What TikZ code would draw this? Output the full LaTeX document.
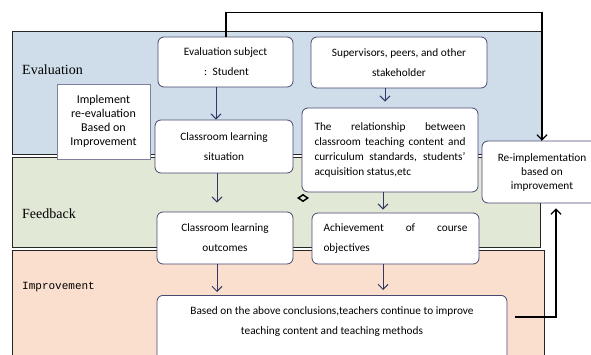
\documentclass[tikz,border=0pt]{standalone}
\usepackage{fontspec}
\setmainfont{Carlito}
\newfontfamily\bandserif{Liberation Serif}
\newfontfamily\bandmono{Liberation Mono}
\usetikzlibrary{arrows.meta,shapes.geometric,calc}
\definecolor{evalfill}{RGB}{206,221,233}
\definecolor{feedfill}{RGB}{225,232,214}
\definecolor{impfill}{RGB}{250,223,207}
\definecolor{boxline}{RGB}{72,72,112}
\definecolor{flowline}{RGB}{50,55,100}
\begin{document}
\begin{tikzpicture}[x=1pt,y=-1pt,
  band/.style={draw=black!85, line width=1pt},
  bandlabel/.style={anchor=west, inner sep=0pt},
  rbox/.style={draw=boxline, fill=white, rounded corners=6pt, line width=0.8pt,
    inner sep=0pt, align=center, font=\fontsize{11.3}{20}\selectfont},
  sqbox/.style={draw=boxline!70, fill=white, line width=0.6pt, inner sep=0pt,
    align=center, font=\fontsize{12}{14}\selectfont},
  plaintext/.style={inner sep=0pt, align=center, font=\fontsize{11.3}{20}\selectfont},
  flow/.style={draw=flowline, line width=1pt, -{Straight Barb[length=5pt,width=10pt]}},
  loopback/.style={draw=black, line width=1.3pt, -{Straight Barb[length=5pt,width=10pt]}}
]
\useasboundingbox (0,0) rectangle (591,355);
\fill[white] (0,0) rectangle (591,355);

% the three stages
\path[band, fill=evalfill] (12,32) rectangle (541,155);
\path[band, fill=feedfill] (12,158) rectangle (540,247);
\path[band, fill=impfill] (12,250) rectangle (544,372);

\node[bandlabel, font=\bandserif\fontsize{14}{16}\selectfont] (levaluation) at (22,70) {Evaluation};
\node[bandlabel, font=\bandserif\fontsize{14}{16}\selectfont] (lfeedback) at (22,214) {Feedback};
\node[bandlabel, font=\bandmono\fontsize{11}{13}\selectfont] (limprovement) at (22,287) {Improvement};

% boxes
\node[rbox, minimum width=135pt, minimum height=50pt] (subj) at (225.5,62)
  {Evaluation subject\\\,:\enspace Student};
\node[rbox, minimum width=176pt, minimum height=51pt] (sup) at (399,62.5)
  {Supervisors, peers, and other\\stakeholder};
\node[sqbox, minimum width=93pt, minimum height=75pt] (impl) at (103.5,121.5)
  {Implement\\re-evaluation\\Based on\\Improvement};
\node[rbox, minimum width=138pt, minimum height=53pt] (sit) at (224,146.5)
  {Classroom learning\\situation};
\node[rbox, minimum width=176pt, minimum height=84pt, align=left,
  font=\fontsize{11.3}{15.3}\selectfont] (rel) at (390,150)
  {\makebox[151pt][s]{The relationship between}\\
   \makebox[151pt][s]{classroom teaching content and}\\
   \makebox[151pt][s]{curriculum standards, students’}\\
   acquisition status,etc};
\node[rbox, minimum width=120pt, minimum height=62pt,
  font=\fontsize{11.3}{14}\selectfont] (reimp) at (542,172)
  {Re-implementation\\based on\\improvement};
\node[rbox, minimum width=136pt, minimum height=52pt] (out) at (225,238)
  {Classroom learning\\outcomes};
\node[rbox, minimum width=167pt, minimum height=51pt, align=left] (ach) at (395.5,238.5)
  {\makebox[144pt][s]{Achievement of course}\\objectives};
\node[rbox, minimum width=350pt, minimum height=80pt, anchor=north] (based) at (332,295) {};
\node[plaintext] (basedtext) at (332,322)
  {Based on the above conclusions,teachers continue to improve\\teaching content and teaching methods};

\node[diamond, draw=black, line width=1.5pt, inner sep=0pt,
  minimum width=10pt, minimum height=7pt] (mark) at (303,198) {};

% flow between the boxes
\draw[flow] ([xshift=-9.5pt]subj.south) -- ([xshift=-8pt]sit.north);
\draw[flow, shorten >=6pt] ([xshift=-14pt]sup.south) -- ([xshift=-5pt]rel.north);
\draw[flow, shorten >=9pt] ([xshift=-7pt]sit.south) -- ([xshift=-8pt]out.north);
\draw[flow, shorten >=3pt] ([xshift=-7pt]rel.south) -- ([xshift=-12.5pt]ach.north);
\draw[flow, shorten >=3pt] ([xshift=-8pt]out.south) -- ([xshift=-115pt]based.north);
\draw[flow, shorten >=5pt] ([xshift=-12.5pt]ach.south) -- ([xshift=51pt]based.north);

% feedback loops
\draw[loopback] ([xshift=0.5pt]subj.north) -- ++(0,-24) -| (reimp.north);
\coordinate (retstart) at (515,317);
\draw[loopback, shorten >=5pt] (retstart) -| ([xshift=14pt]reimp.south);
\end{tikzpicture}
\end{document}
